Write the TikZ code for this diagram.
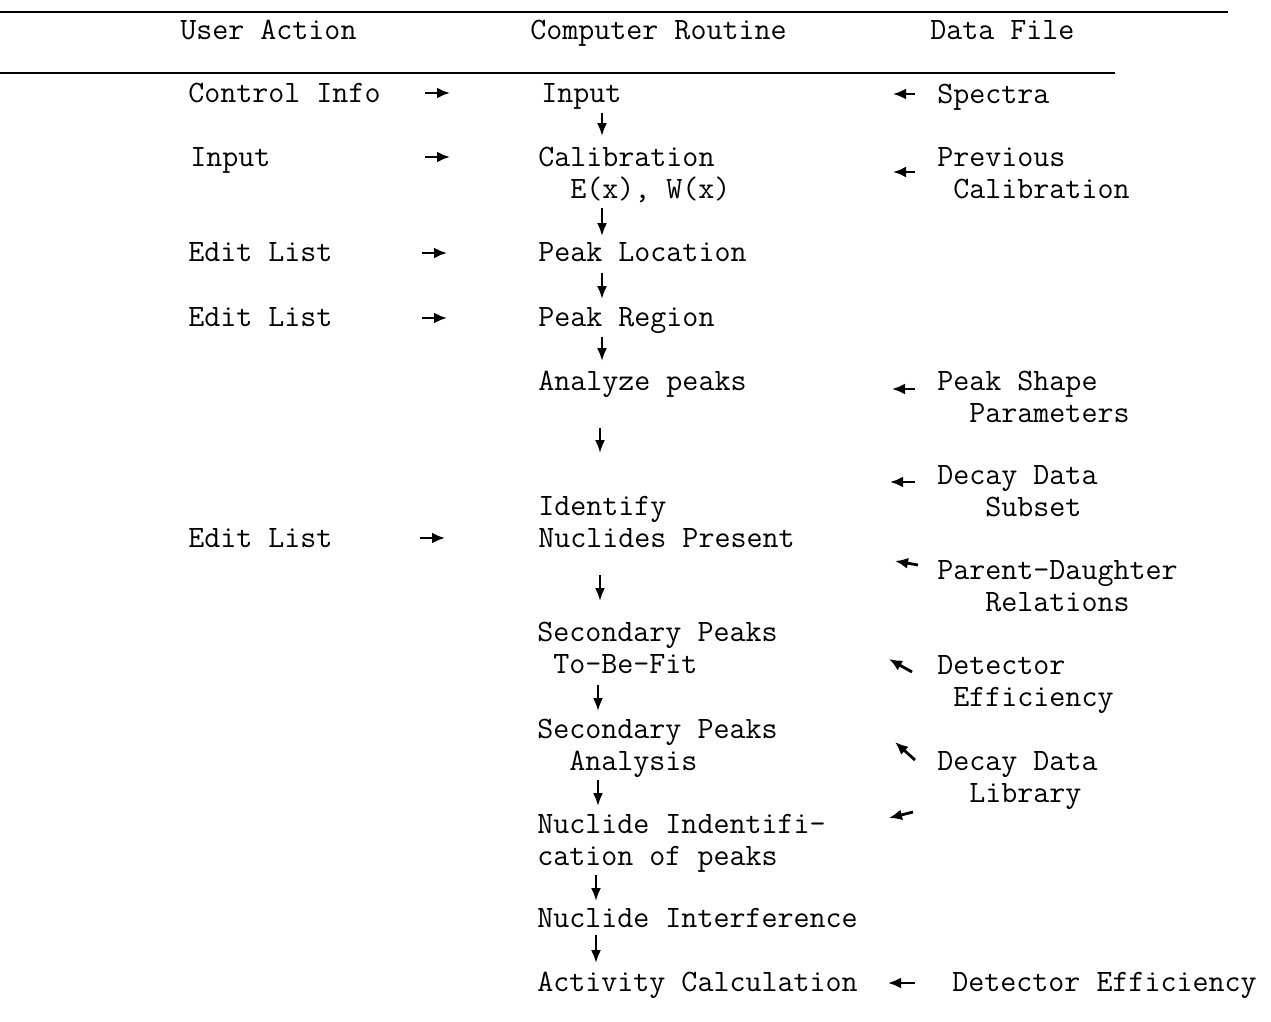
\documentclass[tikz,border=0pt]{standalone}
\usepackage{fontspec}
\usetikzlibrary{arrows.meta, positioning}

\newcommand{\tabfont}{\ttfamily\fontsize{17.7pt}{18pt}\selectfont}
\newcommand{\ind}[1]{\phantom{#1}}

\begin{document}
\begin{tikzpicture}[
    x=0.02cm, y=-0.02cm,
    entry/.style={anchor=base west, align=left, inner sep=0pt, font=\tabfont},
    rule/.style={line width=1.3pt},
    feed/.style={line width=1.6pt, -{Latex[length=2.6mm, width=2.2mm]}},
    flow/.style={line width=1.2pt, -{Latex[length=2.6mm, width=2mm]}}
]
    \useasboundingbox (0,0) rectangle (1271,1021);

    % header
    \draw[rule] (0,12) -- (1228,12);
    \draw[rule] (0,73) -- (1115,73);
    \node[entry] (hUser) at (180,39) {User Action};
    \node[entry] (hComp) at (530,39) {Computer Routine};
    \node[entry] (hData) at (930,39) {Data File};

    % user action column
    \node[entry] (uCtrl) at (188,102) {Control Info};
    \node[entry] (uInput) at (190,166) {Input};
    \node[entry] (uEditA) at (188,261) {Edit List};
    \node[entry] (uEditB) at (188,326) {Edit List};
    \node[entry] (uEditC) at (188,547) {Edit List};

    % computer routine column (two-line entries sit on their last line)
    \node[entry] (rInput) at (541,102) {Input};
    \node[entry] (rCalib) at (538,198) {Calibration\\\ind{xx}E(x), W(x)};
    \node[entry] (rLoc) at (538,261) {Peak Location};
    \node[entry] (rRegion) at (538,326) {Peak Region};
    \node[entry] (rAnalyze) at (538,390) {Analyze peaks};
    \node[entry] (rIdent) at (538,547) {\ind{}Identify\\Nuclides Present};
    \node[entry] (rSecFit) at (537,673) {Secondary Peaks\\\ind{x}To-Be-Fit};
    \node[entry] (rSecAn) at (537,770) {Secondary Peaks\\\ind{xx}Analysis};
    \node[entry] (rNucId) at (537,865) {Nuclide Indentifi-\\cation of peaks};
    \node[entry] (rInterf) at (537,927) {Nuclide Interference};
    \node[entry] (rAct) at (537,991) {Activity Calculation};

    % data file column
    \node[entry] (dSpec) at (937,103) {Spectra};
    \node[entry] (dPrev) at (937,198) {Previous\\\ind{x}Calibration};
    \node[entry] (dShape) at (937,422) {Peak Shape\\\ind{xx}Parameters};
    \node[entry] (dSubset) at (937,516) {Decay Data\\\ind{xxx}Subset};
    \node[entry] (dParent) at (937,611) {Parent-Daughter\\\ind{xxx}Relations};
    \node[entry] (dDetEff) at (937,706) {Detector\\\ind{x}Efficiency};
    \node[entry] (dLib) at (937,802) {Decay Data\\\ind{xx}Library};
    \node[entry] (dEffB) at (952,991) {Detector Efficiency};

    % user action -> routine
    \foreach \xa/\xb/\y in {425/450/93, 425/450/157, 422/447/253, 422/447/318, 420/445/538}
        \draw[feed] (\xa,\y) -- (\xb,\y);

    % routine -> routine
    \foreach \x/\ya/\yb in {602/113/136, 602/208/236, 602/273/299, 602/337/361,
                            600/428/453, 600/575/601, 598/685/711, 598/780/806,
                            596/875/901, 596/935/963}
        \draw[flow] (\x,\ya) -- (\x,\yb);

    % data file -> routine
    \foreach \xa/\ya/\xb/\yb in {915/94/893/94, 915/172/893/172, 915/389/892/389,
                                 915/482/890/482, 918/565/895/561, 912/672/889/659,
                                 915/760/895/742, 913/812/889/818, 915/983/888/983}
        \draw[feed] (\xa,\ya) -- (\xb,\yb);
\end{tikzpicture}
\end{document}
